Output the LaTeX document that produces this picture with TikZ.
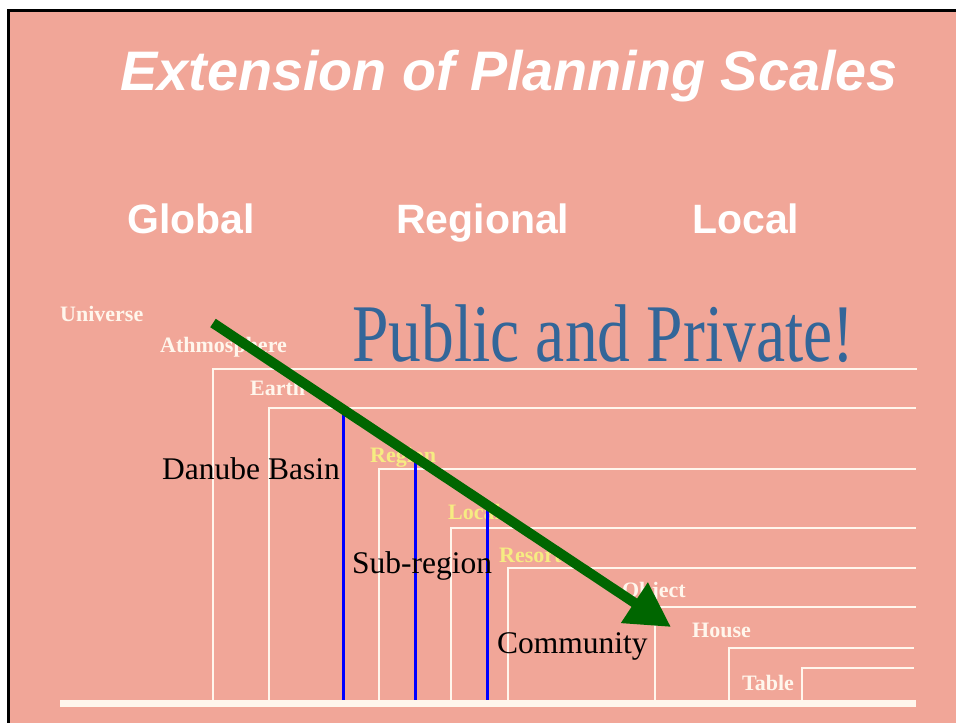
\documentclass[tikz,border=0pt]{standalone}
\usepackage{fontspec}
\setmainfont{Liberation Serif}
\newfontfamily\headfont{Liberation Sans}
\usetikzlibrary{arrows.meta}
\definecolor{salmon}{RGB}{241,166,152}
\definecolor{cream}{RGB}{255,246,236}
\definecolor{lblyellow}{RGB}{246,236,130}
\definecolor{pubblue}{RGB}{51,102,153}
\definecolor{arrowgreen}{RGB}{0,102,0}
\begin{document}
\begin{tikzpicture}[x=1pt,y=-1pt,
  headtxt/.style={inner sep=0pt,anchor=base west,text=white,font=\headfont\bfseries\fontsize{41}{41}\selectfont},
  lbl/.style={inner sep=0pt,anchor=base west,text=cream,font=\bfseries\fontsize{22}{22}\selectfont},
  ylbl/.style={lbl,text=lblyellow},
  blk/.style={inner sep=0pt,anchor=base west,text=black,font=\fontsize{31.5}{31.5}\selectfont},
  bracket/.style={draw=cream,line width=1.6pt},
  bluebar/.style={draw=blue,line width=3pt},
]
\useasboundingbox (0,0) rectangle (956,723);
\fill[white] (0,0) rectangle (956,723);
\fill[salmon] (8.5,10.5) rectangle (956,723);
\draw[black,line width=3pt] (8.5,723) -- (8.5,10.5) -- (956,10.5);

% title and scale headings
\node[inner sep=0pt,anchor=base,text=white,font=\headfont\bfseries\itshape\fontsize{55.7}{55.7}\selectfont] (title) at (509,90) {Extension of Planning Scales};
\node[headtxt] (global) at (127,233) {Global};
\node[headtxt] (regional) at (396,233) {Regional};
\node[headtxt] (local) at (692,233) {Local};

% nested brackets
\draw[bracket] (213,700) -- (213,369) -- (917,369);
\draw[bracket] (269,700) -- (269,408) -- (916,408);
\draw[bracket] (379,700) -- (379,469) -- (916,469);
\draw[bracket] (451,700) -- (451,528) -- (916,528);
\draw[bracket] (508,700) -- (508,568) -- (916,568);
\draw[bracket] (655,700) -- (655,607) -- (916,607);
\draw[bracket] (729,700) -- (729,648) -- (914,648);
\draw[bracket] (802,700) -- (802,668) -- (914,668);
\draw[draw=cream,line width=7pt] (60,703) -- (916,703);

% level labels
\node[lbl] (universe) at (60,321) {Universe};
\node[lbl] (athmo) at (160,352) {Athmosphere};
\node[lbl] (earth) at (250,395) {Earth};
\node[ylbl] (region) at (370,462) {Region};
\node[ylbl] (locl) at (448,519) {Local};
\node[ylbl] (resort) at (499,562) {Resort};
\node[lbl] (object) at (622,597) {Object};
\node[lbl] (house) at (692,637) {House};
\node[lbl] (table) at (742,690) {Table};

% public and private
\node[inner sep=0pt,anchor=base west,text=pubblue] (pub) at (352,361)
  {\scalebox{1}[1.25]{\fontsize{65.5}{65.5}\selectfont Public and Private!}};

% blue bars
\coordinate (b1t) at (343,410);
\coordinate (b1b) at (343,700);
\coordinate (b2t) at (415,459);
\coordinate (b2b) at (415,700);
\coordinate (b3t) at (487,507);
\coordinate (b3b) at (487,700);
\draw[bluebar] (b1t) -- (b1b);
\draw[bluebar] (b2t) -- (b2b);
\draw[bluebar] (b3t) -- (b3b);

% green arrow
\coordinate (gs) at (213,323);
\coordinate (ge) at (671,627);
\draw[arrowgreen,line width=10pt,-{Triangle[length=44pt,width=46pt]}] (gs) -- (ge);

% black labels
\node[blk,anchor=base east] (danube) at (340,479) {Danube Basin};
\node[blk] (subregion) at (352,573) {Sub-region};
\node[blk] (community) at (497,653) {Community};
\end{tikzpicture}
\end{document}
